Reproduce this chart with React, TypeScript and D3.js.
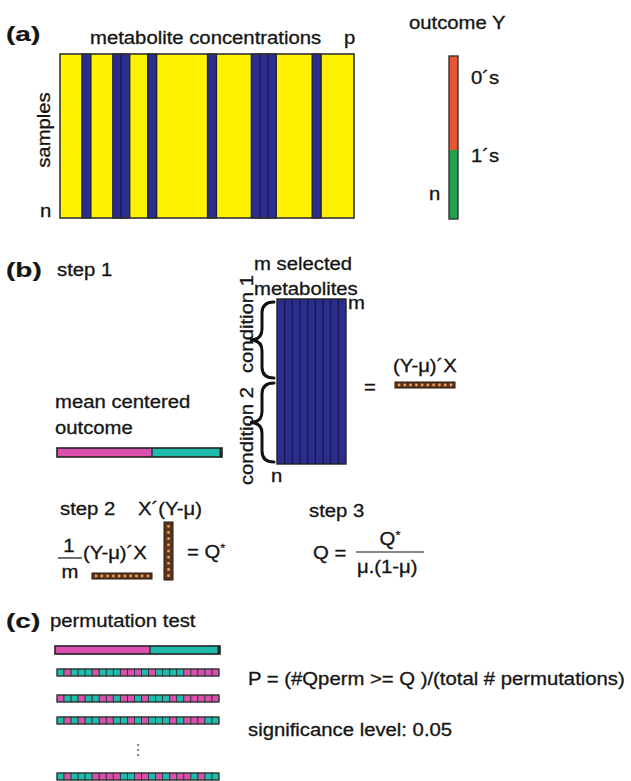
import React from "react";
import * as d3 from "d3";

// ---------- data ----------
// panel (a): metabolite columns (kind, relative width units)
const metaboliteKinds = ["Y", "B", "Y", "B", "B", "Y", "B", "Y", "B", "Y", "B", "B", "B", "Y", "B", "Y"];
const metaboliteWidths = [22, 9, 22, 8.5, 8.5, 18, 9, 51, 9, 35, 8.5, 8, 8.5, 36, 9, 33];
// outcome Y
const outcomeLabels = ["0´s", "1´s"];
const outcomeCounts = [94, 69];
// mean centered outcome split
const groupCounts = [95, 70];
const selectedMetaboliteCount = 9;
const rowBeadCount = 10;
const colBeadCount = 9;
// permutations (M = condition 1 / magenta, T = condition 2 / teal)
const permutations = [
  "TMTTTMTTTMMMTMTTTTMMMMM",
  "MTTMTTMMTMMTMTTTMTMMMMM",
  "TMTMTTMMTTMTMTTTMTMMMTT",
  "TMTTTMMMMTTMMTMTMMMTMTT",
];

const YELLOW = "#fff200";
const NAVY = "#2b2e8c";
const ORANGE = "#e8552f";
const GREEN = "#22a04b";
const MAGENTA = "#dc4fae";
const TEAL = "#1fbcae";
const BROWN = "#5c3620";
const BEAD = "#f2a24e";
const FONT = "'Liberation Sans', Arial, Helvetica, sans-serif";

type TP = {
  x: number; y: number; size?: number; sx?: number; anchor?: string;
  rotate?: number; weight?: string; children?: React.ReactNode;
};
function T({ x, y, size = 17.5, sx = 1.16, anchor = "start", rotate = 0, weight = "normal", children }: TP) {
  return (
    <text
      transform={`translate(${x},${y}) rotate(${rotate}) scale(${sx},1)`}
      fontSize={size}
      textAnchor={anchor as any}
      fontWeight={weight}
      fill="#151515"
      stroke="#151515"
      strokeWidth={weight === "bold" ? 0.2 : 0.3}
    >
      {children}
    </text>
  );
}

function brace(xr: number, xm: number, xl: number, y0: number, y1: number) {
  const ym = (y0 + y1) / 2;
  const q = 11;
  return `M${xr},${y0} Q${xm},${y0} ${xm},${y0 + q} L${xm},${ym - q} Q${xm},${ym} ${xl},${ym} Q${xm},${ym} ${xm},${ym + q} L${xm},${y1 - q} Q${xm},${y1} ${xr},${y1}`;
}

function BeadRow({ x0, x1, y0, y1, n, vertical = false }: { x0: number; x1: number; y0: number; y1: number; n: number; vertical?: boolean }) {
  const s = d3.scaleBand<number>().domain(d3.range(n)).range(vertical ? [y0, y1] : [x0, x1]).paddingOuter(0.2);
  return (
    <g>
      <rect x={x0} y={y0} width={x1 - x0} height={y1 - y0} fill={BROWN} stroke="#2a180c" strokeWidth={1} />
      {d3.range(n).map((i) => {
        const c = (s(i) as number) + s.bandwidth() / 2;
        return vertical ? (
          <circle key={i} cx={(x0 + x1) / 2} cy={c} r={1.4} fill={BEAD} />
        ) : (
          <circle key={i} cx={c} cy={(y0 + y1) / 2} r={1.4} fill={BEAD} />
        );
      })}
    </g>
  );
}

function SplitBar({ x0, x1, y0, y1 }: { x0: number; x1: number; y0: number; y1: number }) {
  const cum = [0, groupCounts[0], groupCounts[0] + groupCounts[1]];
  const sx = d3.scaleLinear().domain([0, cum[2]]).range([x0, x1]);
  return (
    <g>
      <rect x={sx(cum[0])} y={y0} width={sx(cum[1]) - sx(cum[0])} height={y1 - y0} fill={MAGENTA} />
      <rect x={sx(cum[1])} y={y0} width={sx(cum[2]) - sx(cum[1])} height={y1 - y0} fill={TEAL} />
      <line x1={sx(cum[1])} x2={sx(cum[1])} y1={y0} y2={y1} stroke="#222" strokeWidth={1.2} />
      <line x1={x1 - 1.5} x2={x1 - 1.5} y1={y0} y2={y1} stroke="#222" strokeWidth={2} />
      <rect x={x0} y={y0} width={x1 - x0} height={y1 - y0} fill="none" stroke="#222" strokeWidth={1.6} />
    </g>
  );
}

export default function App() {
  // panel a matrix
  const cum = [0];
  metaboliteWidths.forEach((w) => cum.push(cum[cum.length - 1] + w));
  const xa = d3.scaleLinear().domain([0, cum[cum.length - 1]]).range([60, 354]);
  const aTop = 54, aBot = 218;

  // outcome
  const ocum = [0, outcomeCounts[0], outcomeCounts[0] + outcomeCounts[1]];
  const yo = d3.scaleLinear().domain([0, ocum[2]]).range([56, 219]);

  // selected matrix
  const xs = d3.scaleBand<number>().domain(d3.range(selectedMetaboliteCount)).range([277, 346]);

  // permutation bars
  const permY = [669, 695, 717, 773];
  const nCells = permutations[0].length;
  const xp = d3.scaleBand<number>().domain(d3.range(nCells)).range([57, 219]);

  return (
    <svg
      width={631}
      height={781}
      style={{ position: "absolute", left: 0, top: 0, background: "#fff" }}
      fontFamily={FONT}
    >
      <rect width={631} height={781} fill="#fff" />

      {/* ---------- (a) ---------- */}
      <T x={6} y={41} size={20} sx={1.4} weight="bold">(a)</T>
      <T x={90} y={44}>metabolite concentrations</T>
      <T x={344} y={44}>p</T>
      <rect x={60} y={aTop} width={294} height={aBot - aTop} fill={YELLOW} />
      {metaboliteKinds.map((k, i) =>
        k === "B" ? (
          <rect key={i} x={xa(cum[i])} y={aTop} width={xa(cum[i + 1]) - xa(cum[i])} height={aBot - aTop}
            fill={NAVY} stroke="#1c1c3a" strokeWidth={1.3} />
        ) : null
      )}
      <rect x={60} y={aTop} width={294} height={aBot - aTop} fill="none" stroke="#333" strokeWidth={1.6} />
      <T x={50} y={130} rotate={-90} anchor="middle">samples</T>
      <T x={40} y={217}>n</T>

      <T x={409} y={29}>outcome Y</T>
      <rect x={449} y={yo(ocum[0])} width={9} height={yo(ocum[1]) - yo(ocum[0])} fill={ORANGE} />
      <rect x={449} y={yo(ocum[1])} width={9} height={yo(ocum[2]) - yo(ocum[1])} fill={GREEN} />
      <rect x={449} y={yo(0)} width={9} height={yo(ocum[2]) - yo(0)} fill="none" stroke="#333" strokeWidth={1.4} />
      <T x={471} y={84}>{outcomeLabels[0]}</T>
      <T x={471} y={162}>{outcomeLabels[1]}</T>
      <T x={429} y={200}>n</T>

      {/* ---------- (b) ---------- */}
      <T x={6} y={277} size={20} sx={1.4} weight="bold">(b)</T>
      <T x={57} y={276}>step 1</T>
      <T x={254} y={270}>m selected</T>
      <T x={254} y={295}>metabolites</T>
      <rect x={277} y={299} width={69} height={165} fill={NAVY} />
      {d3.range(1, selectedMetaboliteCount).map((i) => (
        <line key={i} x1={xs(i)} x2={xs(i)} y1={299} y2={464} stroke="#171a52" strokeWidth={1.4} />
      ))}
      <rect x={277} y={299} width={69} height={165} fill="none" stroke="#222" strokeWidth={1.4} />
      <T x={348} y={309}>m</T>
      <T x={271} y={482}>n</T>
      <T x={253} y={324} rotate={-90} anchor="middle">condition 1</T>
      <T x={253} y={436} rotate={-90} anchor="middle">condition 2</T>
      <path d={brace(274, 262, 250, 302, 378)} fill="none" stroke="#111" strokeWidth={3} strokeLinecap="round" />
      <path d={brace(274, 262, 250, 383, 462)} fill="none" stroke="#111" strokeWidth={3} strokeLinecap="round" />

      <T x={55} y={408}>mean centered</T>
      <T x={55} y={434}>outcome</T>
      <SplitBar x0={57} x1={222} y0={448} y1={457} />

      <T x={364} y={393}>=</T>
      <T x={393} y={372}>(Y-μ)´X</T>
      <BeadRow x0={395} x1={455} y0={382} y1={388} n={rowBeadCount} />

      {/* step 2 */}
      <T x={60} y={515}>step 2</T>
      <T x={138} y={515}>X´(Y-μ)</T>
      <BeadRow x0={164} x1={173} y0={522} y1={580} n={colBeadCount} vertical />
      <T x={69} y={552} anchor="middle">1</T>
      <line x1={58} x2={82} y1={558} y2={558} stroke="#111" strokeWidth={1.2} />
      <T x={70} y={578} anchor="middle">m</T>
      <T x={83} y={559}>(Y-μ)´X</T>
      <BeadRow x0={92} x1={152} y0={573} y1={579} n={rowBeadCount} />
      <T x={187} y={558}>= Q<tspan fontSize={11} dy={-6}>*</tspan></T>

      {/* step 3 */}
      <T x={309} y={517}>step 3</T>
      <T x={313} y={559}>Q =</T>
      <line x1={356} x2={424} y1={552} y2={552} stroke="#111" strokeWidth={1.2} />
      <T x={390} y={545} anchor="middle">Q<tspan fontSize={11} dy={-6}>*</tspan></T>
      <T x={357} y={573}>μ.(1-μ)</T>

      {/* ---------- (c) ---------- */}
      <T x={6} y={628} size={20} sx={1.4} weight="bold">(c)</T>
      <T x={50} y={627}>permutation test</T>
      <SplitBar x0={55} x1={220} y0={646} y1={654} />
      {permutations.map((p, r) => (
        <g key={r}>
          {p.split("").map((c, i) => (
            <rect key={i} x={xp(i)} y={permY[r]} width={xp.bandwidth()} height={7}
              fill={c === "M" ? MAGENTA : TEAL} stroke="#2a3a3a" strokeWidth={0.9} />
          ))}
          <rect x={57} y={permY[r]} width={162} height={7} fill="none" stroke="#333" strokeWidth={1} />
        </g>
      ))}
      {[745, 750, 755].map((y) => (
        <circle key={y} cx={138} cy={y} r={1.1} fill="#666" />
      ))}
      <T x={248} y={685}>P = (#Qperm &gt;= Q )/(total # permutations)</T>
      <T x={248} y={736}>significance level: 0.05</T>
    </svg>
  );
}
